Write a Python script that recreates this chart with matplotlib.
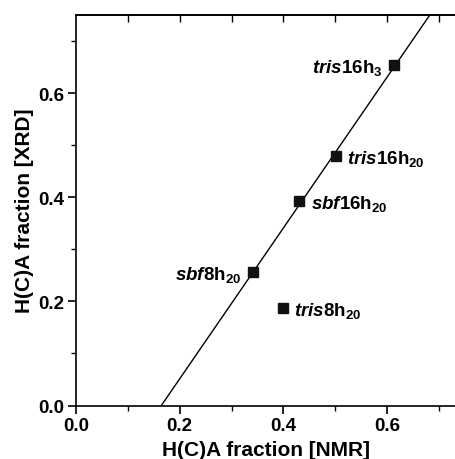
import matplotlib
matplotlib.use("Agg")
import matplotlib.pyplot as plt
import numpy as np

plt.rcParams['font.family'] = ['Liberation Sans', 'DejaVu Sans']
plt.rcParams['font.weight'] = 'bold'
plt.rcParams['mathtext.fontset'] = 'custom'
plt.rcParams['mathtext.rm'] = 'Liberation Sans:bold'
plt.rcParams['mathtext.bf'] = 'Liberation Sans:bold'
plt.rcParams['mathtext.it'] = 'Liberation Sans:bold:italic'
plt.rcParams['mathtext.bfit'] = 'Liberation Sans:bold:italic'

# data
nmr = [0.613, 0.501, 0.431, 0.341, 0.400]
xrd = [0.655, 0.480, 0.393, 0.257, 0.1875]
prefixes = ['tris', 'tris', 'sbf', 'sbf', 'tris']
suffixes = ['16h', '16h', '16h', '8h', '8h']
subs = ['3', '20', '20', '20', '20']
# fitted line: y = slope * x + intercept
slope = 1.45
intercept = -0.2387

fig = plt.figure(figsize=(4.56, 4.60), dpi=100)
ax = fig.add_axes([76/456, 53.5/460, 1 - 76/456, (406.5-15.7)/460])

xs = np.array([-intercept/slope, 0.8])
ax.plot(xs, slope*xs + intercept, color='black', lw=1.0)
ax.plot(nmr, xrd, 's', color='#111111', ms=7.5, ls='none')

offsets = [(-8, 'right'), (8, 'left'), (8, 'left'), (-8, 'right'), (8, 'left')]
for x, y, p, s, sb, (dx, ha) in zip(nmr, xrd, prefixes, suffixes, subs, offsets):
    label = r'$\mathit{%s}\mathrm{%s}_{\mathrm{%s}}$' % (p, s, sb)
    ax.annotate(label, (x, y), xytext=(dx, -1.5), textcoords='offset points',
                ha=ha, va='center', fontsize=13.5)

ax.set_xlim(0, 0.733)
ax.set_ylim(0, 0.7515)
ax.set_xticks([0.0, 0.2, 0.4, 0.6])
ax.set_xticks([0.1, 0.3, 0.5, 0.7], minor=True)
ax.set_yticks([0.0, 0.2, 0.4, 0.6])
ax.set_yticks([0.1, 0.3, 0.5, 0.7], minor=True)
ax.tick_params(which='major', direction='out', length=5.5, width=1.2, labelsize=13.5, pad=3)
ax.tick_params(which='minor', direction='out', length=3.5, width=1.0)
for lab in ax.get_xticklabels() + ax.get_yticklabels():
    lab.set_fontweight('bold')

ax.spines['right'].set_visible(False)
for sp in ['left', 'bottom', 'top']:
    ax.spines[sp].set_linewidth(1.2)

sec = ax.secondary_xaxis('top')
sec.set_xticks([0.1, 0.2, 0.3, 0.4, 0.5, 0.6, 0.7])
sec.tick_params(direction='in', length=5, width=1.0, labeltop=False)
sec.spines['top'].set_linewidth(1.2)

ax.set_xlabel('H(C)A fraction [NMR]', fontsize=15, fontweight='bold', labelpad=4)
ax.set_ylabel('H(C)A fraction [XRD]', fontsize=15, fontweight='bold', labelpad=3)

fig.savefig('out.png', dpi=100)
